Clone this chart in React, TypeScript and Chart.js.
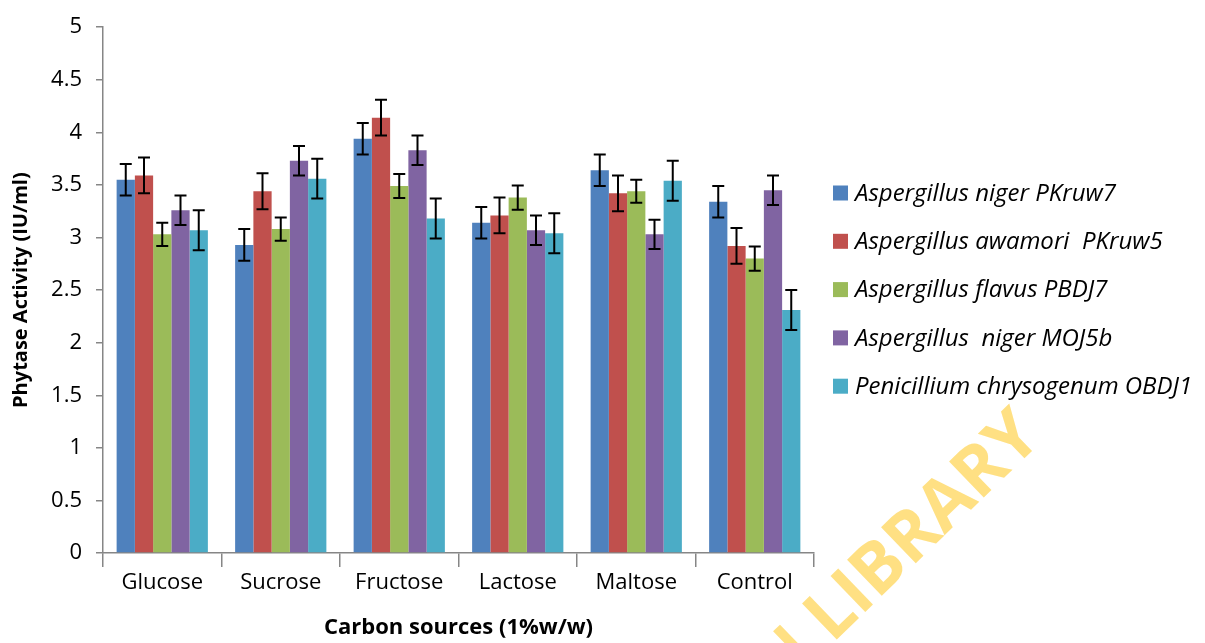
import React, { useEffect, useRef } from "react";
import { Chart, registerables } from "chart.js";

Chart.register(...registerables);

const categories = ["Glucose", "Sucrose", "Fructose", "Lactose", "Maltose", "Control"];
const seriesNames = [
  "Aspergillus niger PKruw7",
  "Aspergillus awamori  PKruw5",
  "Aspergillus flavus PBDJ7",
  "Aspergillus  niger MOJ5b",
  "Penicillium chrysogenum OBDJ1",
];
const yTickLabels = ["0", "0.5", "1", "1.5", "2", "2.5", "3", "3.5", "4", "4.5", "5"];

const nigerPKruw7 = [3.55, 2.93, 3.94, 3.14, 3.64, 3.34];
const awamoriPKruw5 = [3.59, 3.44, 4.14, 3.21, 3.42, 2.92];
const flavusPBDJ7 = [3.03, 3.08, 3.49, 3.38, 3.44, 2.8];
const nigerMOJ5b = [3.26, 3.73, 3.83, 3.07, 3.03, 3.45];
const penicilliumOBDJ1 = [3.07, 3.56, 3.18, 3.04, 3.54, 2.31];

const errNigerPKruw7 = [0.15, 0.15, 0.15, 0.15, 0.15, 0.15];
const errAwamoriPKruw5 = [0.17, 0.17, 0.17, 0.17, 0.17, 0.17];
const errFlavusPBDJ7 = [0.11, 0.11, 0.115, 0.115, 0.11, 0.115];
const errNigerMOJ5b = [0.14, 0.14, 0.14, 0.14, 0.14, 0.14];
const errPenicilliumOBDJ1 = [0.19, 0.19, 0.19, 0.19, 0.19, 0.19];

const colors = ["#4F81BD", "#C0504D", "#9BBB59", "#8064A2", "#4BACC6"];
const seriesValues = [nigerPKruw7, awamoriPKruw5, flavusPBDJ7, nigerMOJ5b, penicilliumOBDJ1];
const seriesErrors = [errNigerPKruw7, errAwamoriPKruw5, errFlavusPBDJ7, errNigerMOJ5b, errPenicilliumOBDJ1];

const FONT = "'Open Sans', 'DejaVu Sans', sans-serif";

const errorBarPlugin = {
  id: "errorBars",
  afterDatasetsDraw(chart: any) {
    const ctx = chart.ctx;
    const yScale = chart.scales.y;
    ctx.save();
    ctx.strokeStyle = "#000000";
    ctx.lineWidth = 2;
    chart.data.datasets.forEach((ds: any, di: number) => {
      const meta = chart.getDatasetMeta(di);
      const errs = seriesErrors[di];
      meta.data.forEach((bar: any, i: number) => {
        const v = ds.data[i];
        const e = errs[i];
        const yt = yScale.getPixelForValue(v + e);
        const yb = yScale.getPixelForValue(v - e);
        const x = bar.x;
        const cap = 6;
        ctx.beginPath();
        ctx.moveTo(x, yt);
        ctx.lineTo(x, yb);
        ctx.moveTo(x - cap, yt);
        ctx.lineTo(x + cap, yt);
        ctx.moveTo(x - cap, yb);
        ctx.lineTo(x + cap, yb);
        ctx.stroke();
      });
    });
    ctx.restore();
  },
};

const legendPlugin = {
  id: "customLegend",
  afterDraw(chart: any) {
    const ctx = chart.ctx;
    const x0 = chart.chartArea.right + 19;
    const y0 = 193;
    const step = 48.3;
    ctx.save();
    ctx.font = `italic 24px ${FONT}`;
    ctx.textBaseline = "middle";
    ctx.textAlign = "left";
    seriesNames.forEach((name, i) => {
      const y = y0 + i * step;
      ctx.fillStyle = colors[i];
      ctx.fillRect(x0, y - 7.5, 15, 15);
      ctx.fillStyle = "#000000";
      ctx.fillText(name, x0 + 22, y + 1);
    });
    ctx.restore();
  },
};

const watermarkPlugin = {
  id: "watermark",
  beforeDatasetsDraw(chart: any) {
    const ctx = chart.ctx;
    ctx.save();
    ctx.translate(1030, 425);
    ctx.rotate((-44 * Math.PI) / 180);
    ctx.font = `bold 70px ${FONT}`;
    ctx.fillStyle = "rgba(255, 214, 90, 0.75)";
    ctx.textAlign = "right";
    ctx.textBaseline = "middle";
    ctx.fillText("IBADAN LIBRARY", 0, 0);
    ctx.restore();
  },
};

export default function App() {
  const canvasRef = useRef<HTMLCanvasElement | null>(null);

  useEffect(() => {
    if (!canvasRef.current) return;
    const chart = new Chart(canvasRef.current, {
      type: "bar",
      data: {
        labels: categories,
        datasets: seriesValues.map((vals, i) => ({
          label: seriesNames[i],
          data: vals,
          backgroundColor: colors[i],
          borderWidth: 0,
          categoryPercentage: 0.77,
          barPercentage: 1,
        })),
      },
      options: {
        responsive: false,
        animation: false,
        layout: { padding: { left: 0, right: 391, top: 20, bottom: 0 } },
        plugins: {
          legend: { display: false },
          tooltip: { enabled: false },
        },
        scales: {
          x: {
            offset: true,
            grid: {
              display: true,
              offset: true,
              drawOnChartArea: false,
              drawTicks: true,
              tickLength: 14,
              color: "#868686",
              lineWidth: 1.5,
            },
            border: { display: true, color: "#868686", width: 1.5 },
            ticks: {
              color: "#000000",
              font: { family: FONT, size: 22 },
              padding: 3,
            },
            title: {
              display: true,
              text: "Carbon sources (1%w/w)",
              color: "#000000",
              font: { family: FONT, size: 22, weight: "bold" },
              padding: { top: 2, bottom: 2 },
            },
            afterFit(scale: any) {
              scale.height = 90;
            },
          },
          y: {
            min: 0,
            max: 5,
            ticks: {
              stepSize: 0.5,
              color: "#000000",
              font: { family: FONT, size: 22 },
              padding: 14,
              callback: (_v: any, i: number) => yTickLabels[i],
            },
            grid: {
              display: true,
              drawOnChartArea: false,
              drawTicks: true,
              tickLength: 7,
              color: "#868686",
              lineWidth: 1.5,
            },
            border: { display: true, color: "#868686", width: 1.5 },
            title: {
              display: true,
              text: "Phytase Activity (IU/ml)",
              color: "#000000",
              font: { family: FONT, size: 20, weight: "bold" },
              padding: { top: 9, bottom: 9 },
            },
            afterFit(scale: any) {
              scale.width = 103;
            },
          },
        },
      },
      plugins: [watermarkPlugin, errorBarPlugin, legendPlugin],
    });
    return () => chart.destroy();
  }, []);

  return (
    <div style={{ position: "fixed", left: 0, top: 0, width: 1205, height: 643, background: "#ffffff" }}>
      <canvas ref={canvasRef} width={1205} height={643} />
    </div>
  );
}
